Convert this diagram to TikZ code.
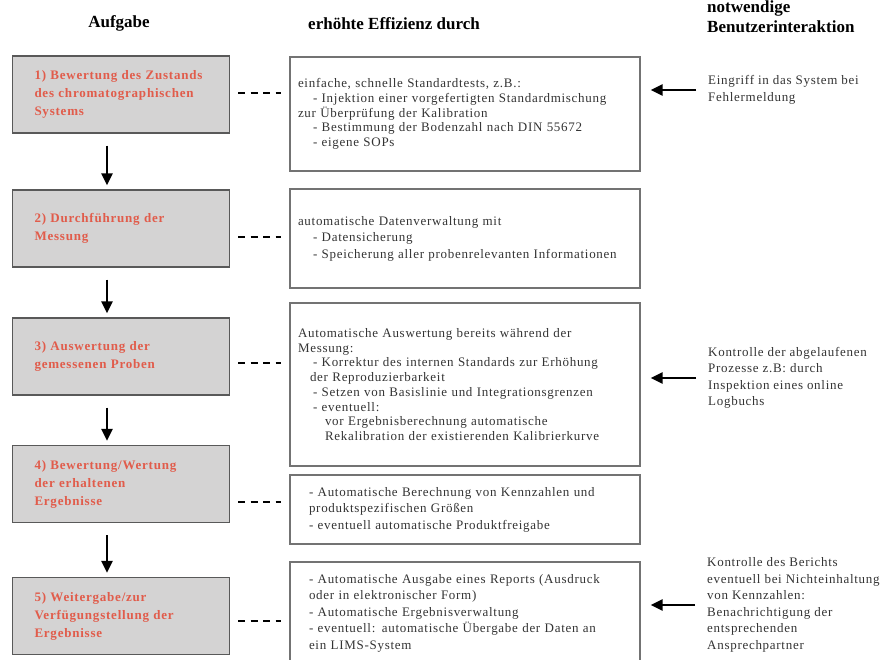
\documentclass[tikz,border=0pt]{standalone}
\usepackage{fontspec}
\setmainfont{Liberation Serif}
\newfontfamily\effizienzfont[LetterSpace=5.5]{Liberation Serif}
\newfontfamily\aufgabefont[LetterSpace=6]{Liberation Serif}
\usetikzlibrary{arrows.meta}
\definecolor{aufgabenrot}{RGB}{225,92,75}
\definecolor{kastengrau}{RGB}{212,211,211}
\newcommand{\einr}{\hspace*{15pt}}

\begin{document}
\begin{tikzpicture}[x=1pt, y=-1pt,
  kopf/.style={font=\bfseries\fontsize{17}{20}\selectfont, inner sep=0pt, align=left},
  aufgabe/.style={draw=black!65, fill=kastengrau, line width=1.2pt, minimum width=217pt, minimum height=77pt, text width=173pt, inner xsep=22pt, align=left, text=aufgabenrot, font=\aufgabefont\bfseries\fontsize{13}{18}\selectfont},
  effizienz/.style={draw=black!55, line width=1.2pt, text width=334pt, inner xsep=8pt, align=left, text=black!80, font=\effizienzfont\fontsize{13}{14.7}\selectfont},
  weit/.style={font=\effizienzfont\fontsize{13}{16.5}\selectfont},
  hinweis/.style={inner sep=0pt, align=left, anchor=west, text=black!80, font=\effizienzfont\fontsize{13}{16.5}\selectfont},
  pfeil/.style={line width=2.5pt, -{Triangle[length=12pt, width=11pt]}},
  strich/.style={line width=2.8pt, dash pattern=on 7pt off 5.5pt, shorten <=8pt, shorten >=8pt}]
  \useasboundingbox (0,0) rectangle (896,659);

  % 表头
  \node[kopf] (h1) at (119,23) {Aufgabe};
  \node[kopf] (h2) at (394,24) {erhöhte Effizienz durch};
  \node[kopf, anchor=west] (h3) at (707,17) {notwendige\\Benutzerinteraktion};

  % 左列: 任务
  \node[aufgabe] (g1) at (121,94.5) {1) Bewertung des Zustands\\des chromatographischen\\Systems};
  \node[aufgabe] (g2) at (121,228.5) {2) Durchführung der\\Messung};
  \node[aufgabe] (g3) at (121,356.5) {3) Auswertung der\\gemessenen Proben};
  \node[aufgabe] (g4) at (121,484) {4) Bewertung/Wertung\\der erhaltenen\\Ergebnisse};
  \node[aufgabe] (g5) at (121,616) {5) Weitergabe/zur\\Verfügungstellung der\\Ergebnisse};

  % 中列: 效率
  \node[effizienz, minimum height=114pt] (e1) at (465,114) {einfache, schnelle Standardtests, z.B.:\\
    \einr- Injektion einer vorgefertigten Standardmischung\\
    zur Überprüfung der Kalibration\\
    \einr- Bestimmung der Bodenzahl nach DIN 55672\\
    \einr- eigene SOPs};
  \node[effizienz, weit, minimum height=99pt] (e2) at (465,238.5) {automatische Datenverwaltung mit\\
    \einr- Datensicherung\\
    \einr- Speicherung aller probenrelevanten Informationen};
  \node[effizienz, minimum height=163pt] (e3) at (465,384.5) {Automatische Auswertung bereits während der\\
    Messung:\\
    \einr- Korrektur des internen Standards zur Erhöhung\\
    \hspace*{12pt}der Reproduzierbarkeit\\
    \einr- Setzen von Basislinie und Integrationsgrenzen\\
    \einr- eventuell:\\
    \hspace*{27pt}vor Ergebnisberechnung automatische\\
    \hspace*{27pt}Rekalibration der existierenden Kalibrierkurve};
  \node[effizienz, weit, inner xsep=19pt, text width=312pt, minimum height=69pt] (e4) at (465,509.5) {- Automatische Berechnung von Kennzahlen und\\
    produktspezifischen Größen\\
    - eventuell automatische Produktfreigabe};
  \node[effizienz, weit, inner xsep=19pt, text width=312pt, minimum height=102pt] (e5) at (465,613) {- Automatische Ausgabe eines Reports (Ausdruck\\
    oder in elektronischer Form)\\
    - Automatische Ergebnisverwaltung\\
    - eventuell: automatische Übergabe der Daten an\\
    ein LIMS-System};

  % 右列: 用户交互
  \node[hinweis] (r1) at (708,90) {Eingriff in das System bei\\Fehlermeldung};
  \node[hinweis] (r3) at (708,378) {Kontrolle der abgelaufenen\\Prozesse z.B: durch\\Inspektion eines online\\Logbuchs};
  \node[hinweis] (r5) at (707,605) {Kontrolle des Berichts\\eventuell bei Nichteinhaltung\\von Kennzahlen:\\Benachrichtigung der\\entsprechenden\\Ansprechpartner};

  % 流程箭头
  \foreach \a/\b in {g1/g2, g2/g3, g3/g4, g4/g5}
    \draw[pfeil, shorten <=12pt, shorten >=4pt] ([xshift=-14pt]\a.south) -- ([xshift=-14pt]\a.south |- \b.north);

  % 虚线连接
  \foreach \a/\b/\s in {g1/e1/1.5, g2/e2/-8.5, g3/e3/-6.5, g4/e4/-18, g5/e5/-5}
    \draw[strich] ([yshift=\s pt]\a.east) -- ([yshift=\s pt]\a.east -| \b.west);

  % 交互箭头
  \foreach \r/\e in {r1/e1, r3/e3, r5/e5}
    \draw[pfeil, shorten <=12pt, shorten >=10pt] (\r.west) -- (\r.west -| \e.east);
\end{tikzpicture}
\end{document}
